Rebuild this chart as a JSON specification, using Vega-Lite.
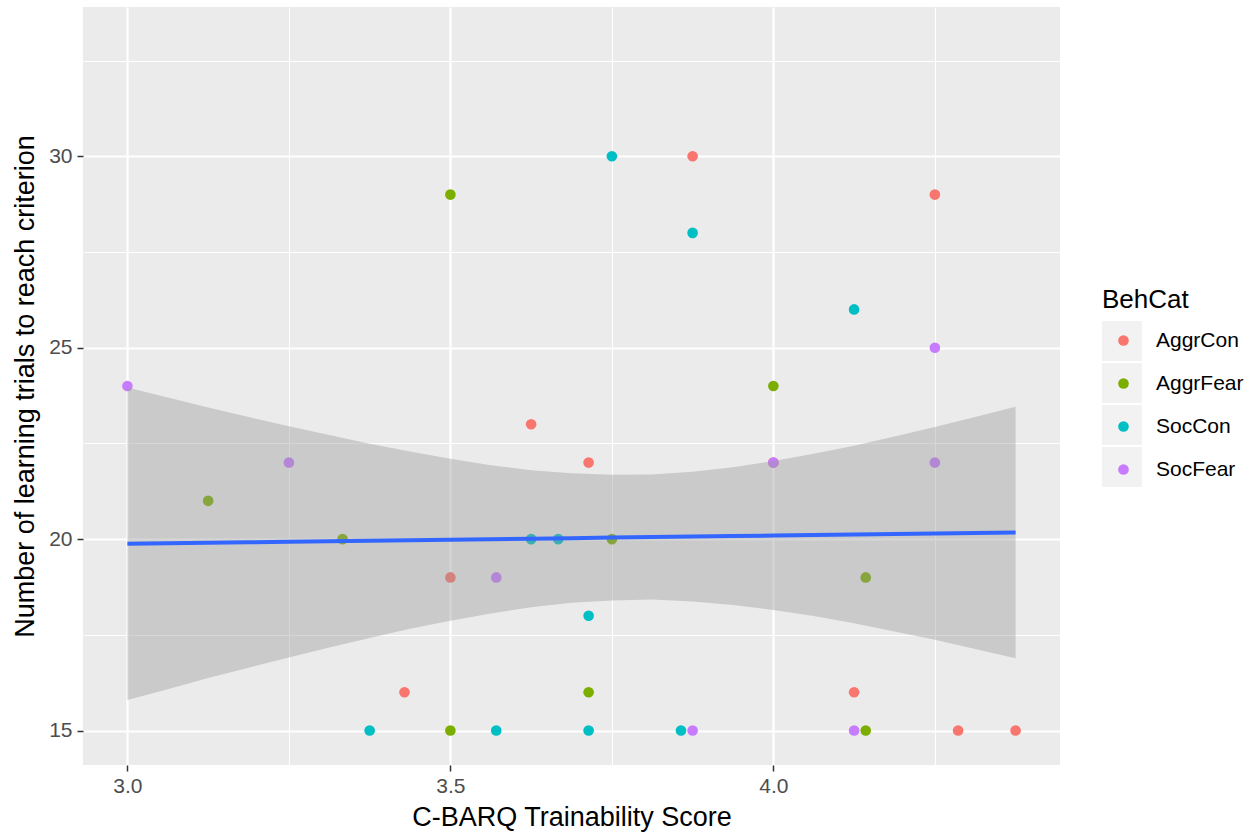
{
  "$schema": "https://vega.github.io/schema/vega-lite/v6.json",
  "width": 977,
  "height": 758,
  "autosize": {"type": "none"},
  "padding": {"left": 83, "top": 7, "right": 191, "bottom": 67},
  "background": "white",
  "config": {
    "view": {"fill": "#EBEBEB", "stroke": null},
    "font": "Liberation Sans"
  },
  "datasets": {
    "points": [
      {"score": 3.625, "trials": 23, "BehCat": "AggrCon"},
      {"score": 3.875, "trials": 30, "BehCat": "AggrCon"},
      {"score": 4.25, "trials": 29, "BehCat": "AggrCon"},
      {"score": 3.5, "trials": 19, "BehCat": "AggrCon"},
      {"score": 3.429, "trials": 16, "BehCat": "AggrCon"},
      {"score": 3.714, "trials": 22, "BehCat": "AggrCon"},
      {"score": 4.125, "trials": 16, "BehCat": "AggrCon"},
      {"score": 4.286, "trials": 15, "BehCat": "AggrCon"},
      {"score": 4.375, "trials": 15, "BehCat": "AggrCon"},
      {"score": 4.0, "trials": 22, "BehCat": "AggrCon"},
      {"score": 3.5, "trials": 29, "BehCat": "AggrFear"},
      {"score": 4.0, "trials": 24, "BehCat": "AggrFear"},
      {"score": 3.125, "trials": 21, "BehCat": "AggrFear"},
      {"score": 3.333, "trials": 20, "BehCat": "AggrFear"},
      {"score": 3.5, "trials": 15, "BehCat": "AggrFear"},
      {"score": 3.75, "trials": 20, "BehCat": "AggrFear"},
      {"score": 4.143, "trials": 19, "BehCat": "AggrFear"},
      {"score": 3.714, "trials": 16, "BehCat": "AggrFear"},
      {"score": 4.143, "trials": 15, "BehCat": "AggrFear"},
      {"score": 3.75, "trials": 30, "BehCat": "SocCon"},
      {"score": 3.875, "trials": 28, "BehCat": "SocCon"},
      {"score": 4.125, "trials": 26, "BehCat": "SocCon"},
      {"score": 3.625, "trials": 20, "BehCat": "SocCon"},
      {"score": 3.667, "trials": 20, "BehCat": "SocCon"},
      {"score": 3.375, "trials": 15, "BehCat": "SocCon"},
      {"score": 3.571, "trials": 15, "BehCat": "SocCon"},
      {"score": 3.714, "trials": 18, "BehCat": "SocCon"},
      {"score": 3.714, "trials": 15, "BehCat": "SocCon"},
      {"score": 3.857, "trials": 15, "BehCat": "SocCon"},
      {"score": 3.0, "trials": 24, "BehCat": "SocFear"},
      {"score": 4.25, "trials": 25, "BehCat": "SocFear"},
      {"score": 3.25, "trials": 22, "BehCat": "SocFear"},
      {"score": 3.571, "trials": 19, "BehCat": "SocFear"},
      {"score": 4.0, "trials": 22, "BehCat": "SocFear"},
      {"score": 4.25, "trials": 22, "BehCat": "SocFear"},
      {"score": 3.875, "trials": 15, "BehCat": "SocFear"},
      {"score": 4.125, "trials": 15, "BehCat": "SocFear"}
    ],
    "band": [
      {"score": 3.0, "fit": 19.877, "lo": 15.80, "hi": 23.96},
      {"score": 3.0625, "fit": 19.891, "lo": 16.08, "hi": 23.70},
      {"score": 3.125, "fit": 19.904, "lo": 16.37, "hi": 23.44},
      {"score": 3.1875, "fit": 19.918, "lo": 16.64, "hi": 23.19},
      {"score": 3.25, "fit": 19.931, "lo": 16.91, "hi": 22.95},
      {"score": 3.3125, "fit": 19.945, "lo": 17.17, "hi": 22.72},
      {"score": 3.375, "fit": 19.958, "lo": 17.42, "hi": 22.49},
      {"score": 3.4375, "fit": 19.972, "lo": 17.66, "hi": 22.29},
      {"score": 3.5, "fit": 19.985, "lo": 17.87, "hi": 22.10},
      {"score": 3.5625, "fit": 19.999, "lo": 18.06, "hi": 21.93},
      {"score": 3.625, "fit": 20.012, "lo": 18.22, "hi": 21.80},
      {"score": 3.6875, "fit": 20.026, "lo": 18.34, "hi": 21.72},
      {"score": 3.75, "fit": 20.040, "lo": 18.40, "hi": 21.68},
      {"score": 3.8125, "fit": 20.053, "lo": 18.42, "hi": 21.69},
      {"score": 3.875, "fit": 20.067, "lo": 18.37, "hi": 21.76},
      {"score": 3.9375, "fit": 20.080, "lo": 18.28, "hi": 21.88},
      {"score": 4.0, "fit": 20.094, "lo": 18.15, "hi": 22.04},
      {"score": 4.0625, "fit": 20.107, "lo": 17.99, "hi": 22.23},
      {"score": 4.125, "fit": 20.121, "lo": 17.80, "hi": 22.44},
      {"score": 4.1875, "fit": 20.135, "lo": 17.59, "hi": 22.68},
      {"score": 4.25, "fit": 20.148, "lo": 17.37, "hi": 22.93},
      {"score": 4.3125, "fit": 20.162, "lo": 17.13, "hi": 23.19},
      {"score": 4.375, "fit": 20.175, "lo": 16.89, "hi": 23.46}
    ]
  },
  "layer": [
    {
      "data": {"name": "points"},
      "mark": {"type": "point", "filled": true, "size": 0, "color": "#F2F2F2", "opacity": 1},
      "encoding": {
        "shape": {
          "field": "BehCat", "type": "nominal",
          "scale": {"range": ["square", "square", "square", "square"]},
          "legend": {
            "orient": "none",
            "legendX": 1019,
            "legendY": 314,
            "title": null,
            "labelExpr": "''",
            "labelFontSize": 21,
            "symbolSize": 1600,
            "symbolStrokeWidth": 0,
            "symbolFillColor": "#F2F2F2",
            "symbolOpacity": 1,
            "symbolOffset": 0,
            "rowPadding": 2,
            "padding": 0,
            "zindex": 1
          }
        }
      }
    },
    {
      "data": {"name": "points"},
      "mark": {"type": "circle", "size": 113, "opacity": 1},
      "encoding": {
        "x": {
          "field": "score", "type": "quantitative",
          "title": "C-BARQ Trainability Score",
          "scale": {"domain": [2.93125, 4.44375], "nice": false, "zero": false},
          "axis": {
            "values": [3, 3.25, 3.5, 3.75, 4, 4.25],
            "labelExpr": "datum.value % 0.5 == 0 ? format(datum.value, '.1f') : ''",
            "labelOverlap": false,
            "labelFlush": false,
            "grid": true,
            "gridColor": "white",
            "gridWidth": {"condition": {"test": "datum.value % 0.5 == 0", "value": 2.2}, "value": 1.1},
            "ticks": true,
            "tickSize": 6,
            "tickWidth": 1.5,
            "tickColor": {"condition": {"test": "datum.value % 0.5 == 0", "value": "#333333"}, "value": "transparent"},
            "domain": false,
            "labelFontSize": 21,
            "labelColor": "#4D4D4D",
            "labelPadding": 4,
            "titleFontSize": 27,
            "titleColor": "black",
            "titleFontWeight": "normal",
            "titlePadding": 8
          }
        },
        "y": {
          "field": "trials", "type": "quantitative",
          "title": "Number of learning trials to reach criterion",
          "scale": {"domain": [14.1, 33.9], "nice": false, "zero": false},
          "axis": {
            "values": [15, 17.5, 20, 22.5, 25, 27.5, 30, 32.5],
            "labelExpr": "datum.value % 5 == 0 ? format(datum.value, 'd') : ''",
            "labelOverlap": false,
            "labelFlush": false,
            "grid": true,
            "gridColor": "white",
            "gridWidth": {"condition": {"test": "datum.value % 5 == 0", "value": 2.2}, "value": 1.1},
            "ticks": true,
            "tickSize": 6,
            "tickWidth": 1.5,
            "tickColor": {"condition": {"test": "datum.value % 5 == 0", "value": "#333333"}, "value": "transparent"},
            "domain": false,
            "labelFontSize": 21,
            "labelColor": "#4D4D4D",
            "labelPadding": 5,
            "titleFontSize": 27,
            "titleColor": "black",
            "titleFontWeight": "normal",
            "titlePadding": 9
          }
        },
        "color": {
          "field": "BehCat", "type": "nominal",
          "scale": {
            "domain": ["AggrCon", "AggrFear", "SocCon", "SocFear"],
            "range": ["#F8766D", "#7CAE00", "#00BFC4", "#C77CFF"]
          },
          "legend": {
            "orient": "none",
            "legendX": 1019,
            "legendY": 280,
            "title": "BehCat",
            "titleFontSize": 26,
            "titleColor": "black",
            "titleFontWeight": "normal",
            "titlePadding": 17,
            "labelFontSize": 21,
            "labelColor": "black",
            "symbolType": "circle",
            "symbolSize": 113,
            "symbolStrokeWidth": 0,
            "symbolOpacity": 1,
            "symbolOffset": 11,
            "labelOffset": 22,
            "rowPadding": 21,
            "padding": 0,
            "zindex": 2
          }
        }
      }
    },
    {
      "data": {"name": "band"},
      "mark": {"type": "area", "color": "#999999", "opacity": 0.4},
      "encoding": {
        "x": {"field": "score", "type": "quantitative", "title": "C-BARQ Trainability Score"},
        "y": {"field": "lo", "type": "quantitative", "title": "Number of learning trials to reach criterion"},
        "y2": {"field": "hi"}
      }
    },
    {
      "data": {"name": "band"},
      "mark": {"type": "line", "color": "#3366FF", "strokeWidth": 4},
      "encoding": {
        "x": {"field": "score", "type": "quantitative", "title": "C-BARQ Trainability Score"},
        "y": {"field": "fit", "type": "quantitative", "title": "Number of learning trials to reach criterion"}
      }
    }
  ]
}
